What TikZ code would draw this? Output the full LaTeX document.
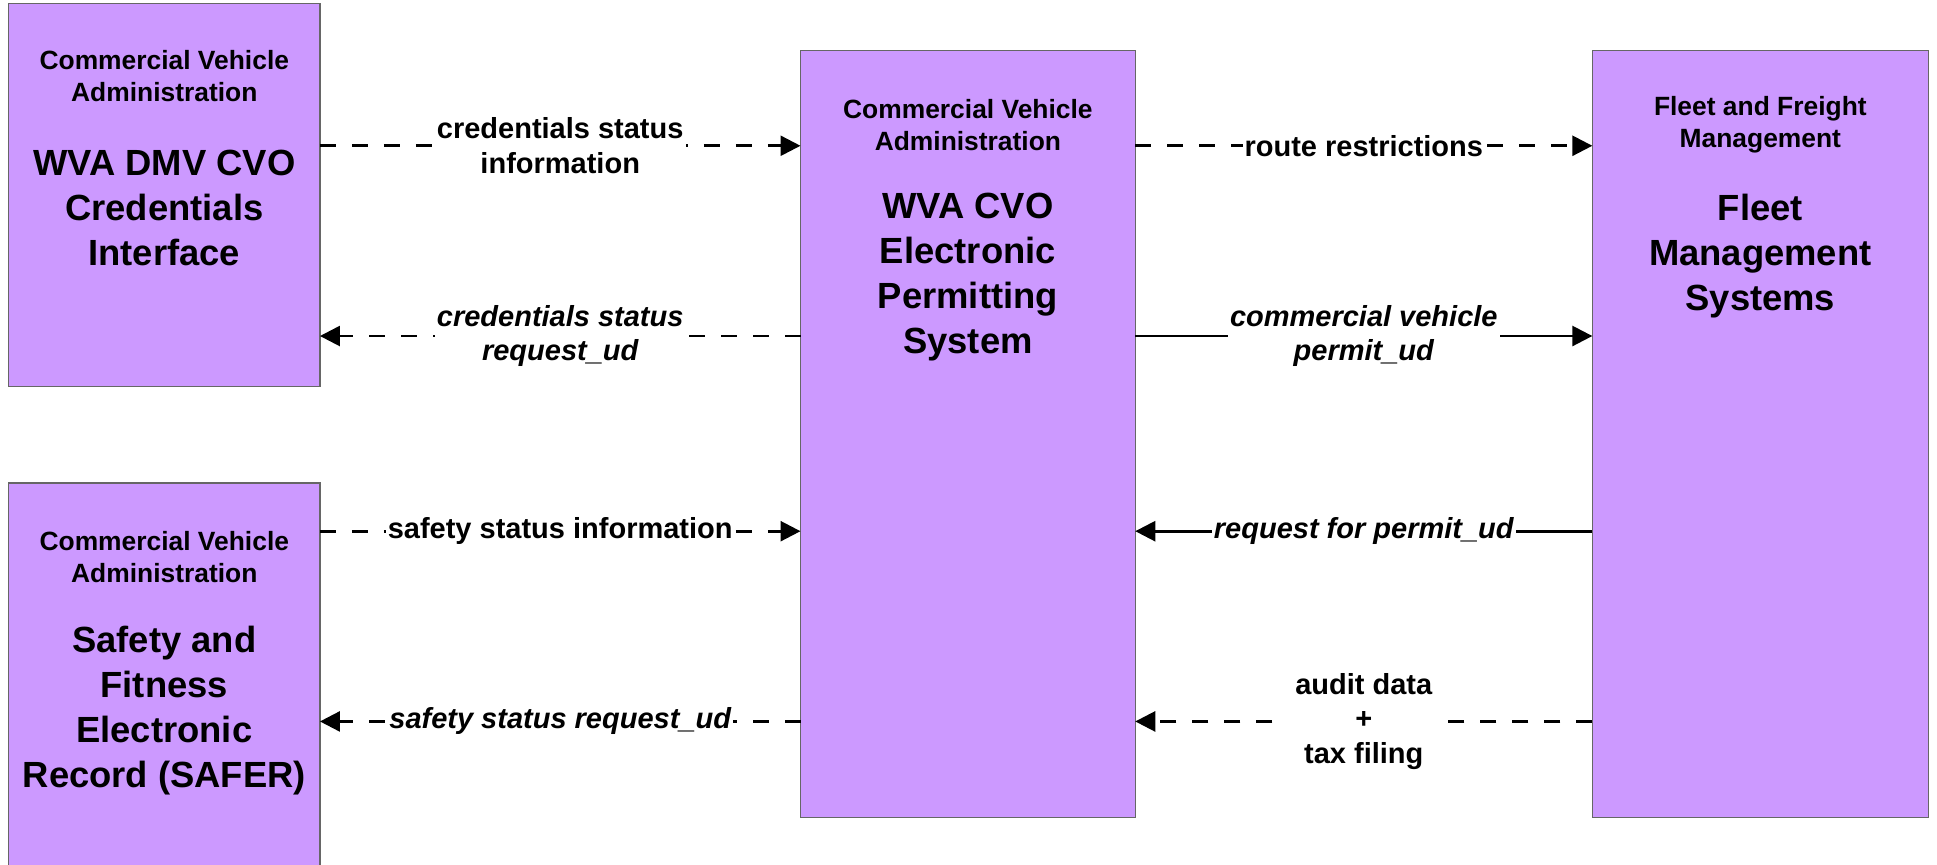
\documentclass[tikz,border=0pt]{standalone}
\usepackage{fontspec}
\setmainfont{Liberation Sans}
\usetikzlibrary{arrows.meta,fit}
\definecolor{boxfill}{RGB}{204,153,255}
\begin{document}
\begin{tikzpicture}[x=0.61767pt,y=-0.61767pt,
  box/.style={draw=black!60, line width=0.6pt, fill=boxfill, inner sep=0pt, outer sep=0pt},
  hdr/.style={font=\fontsize{13.2}{16}\selectfont\bfseries, align=center, inner sep=0pt},
  ttl/.style={font=\fontsize{18.2}{22.5}\selectfont\bfseries, align=center, inner sep=0pt},
  lbl/.style={font=\fontsize{14.5}{17.3}\selectfont\bfseries, align=center, fill=white, inner sep=1pt},
  ilbl/.style={lbl, font=\fontsize{14.5}{17.3}\selectfont\bfseries\itshape},
  flow/.style={line width=1.3pt, -{Triangle[length=10pt,width=10pt]}},
  dflow/.style={flow, dash pattern=on 8pt off 8pt}]
\useasboundingbox (0,0) rectangle (1568,700);

% boxes
\node[box, fit={(7,3) (259,313)}] (b1) {};
\node[box, fit={(7,391) (259,720)}] (b2) {};
\node[box, fit={(648,41) (919,662)}] (c) {};
\node[box, fit={(1289,41) (1561,662)}] (f) {};

% box texts
\node[hdr] (b1h) at (133,61.5) {Commercial Vehicle\\Administration};
\node[ttl] (b1t) at (133,168) {WVA DMV CVO\\Credentials\\Interface};
\node[hdr] (b2h) at (133,451) {Commercial Vehicle\\Administration};
\node[ttl] (b2t) at (133,575) {Safety and\\Fitness\\Electronic\\Record (SAFER)};
\node[hdr] (ch) at (783.5,101) {Commercial Vehicle\\Administration};
\node[ttl] (ct) at (783.5,224.5) {WVA CVO\\Electronic\\Permitting\\System};
\node[hdr] (fh) at (1425,101) {Fleet and Freight\\Management};
\node[ttl] (ft) at (1425,207.5) {Fleet\\Management\\Systems};

% rows
\coordinate (r1) at (0,118);
\coordinate (r2) at (0,272);
\coordinate (r3) at (0,430);
\coordinate (r4) at (0,584);

% connectors
\draw[dflow] (b1.east |- r1) -- node[lbl] (l1) {credentials status\\information} (c.west |- r1);
\draw[dflow] (c.west |- r2) -- node[ilbl] (l2) {credentials status\\request\_ud} (b1.east |- r2);
\draw[dflow] (b2.east |- r3) -- node[lbl] (l3) {safety status information} (c.west |- r3);
\draw[dflow] (c.west |- r4) -- node[ilbl] (l4) {safety status request\_ud} (b2.east |- r4);
\draw[dflow] (c.east |- r1) -- node[lbl] (l5) {route restrictions} (f.west |- r1);
\draw[flow] (c.east |- r2) -- node[ilbl] (l6) {commercial vehicle\\permit\_ud} (f.west |- r2);
\draw[flow] (f.west |- r3) -- node[ilbl] (l7) {request for permit\_ud} (c.east |- r3);
\draw[dflow] (f.west |- r4) -- node[lbl, inner xsep=6pt] (l8) {audit data\\+\\tax filing} (c.east |- r4);
\end{tikzpicture}
\end{document}
